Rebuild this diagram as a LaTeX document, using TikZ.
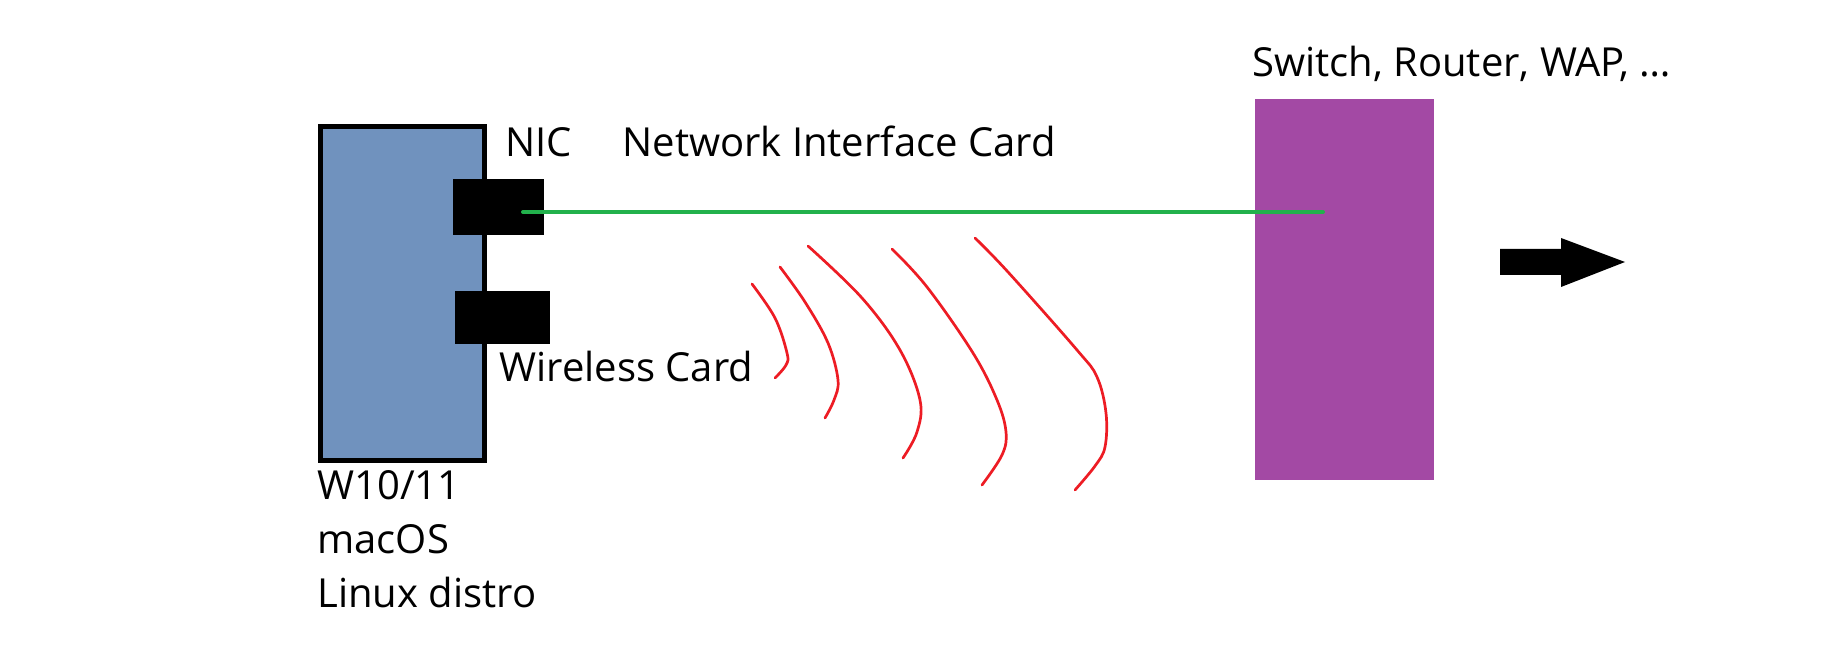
\documentclass[tikz,border=0pt]{standalone}
\usepackage{fontspec}
\setmainfont{Open Sans}
\usepackage{xcolor}
\usepackage{tikz}
\usetikzlibrary{positioning,calc}
\definecolor{pcBlue}{RGB}{112,146,190}
\definecolor{swPurple}{RGB}{163,73,164}
\definecolor{cableGreen}{RGB}{34,177,76}
\definecolor{waveRed}{RGB}{237,28,36}

\begin{document}
\begin{tikzpicture}[
    x=0.5pt, y=-0.5pt,
    every node/.style={font=\fontsize{20}{26.5}\selectfont},
    pcNode/.style={rectangle, draw=black, fill=pcBlue, line width=2.5pt, minimum width=82pt, minimum height=167pt, inner sep=0pt},
    cardNode/.style={rectangle, fill=black, inner sep=0pt},
    switchNode/.style={rectangle, fill=swPurple, minimum width=89.5pt, minimum height=190.5pt, inner sep=0pt},
    labelText/.style={anchor=base west, inner sep=0pt},
    cableLine/.style={draw=cableGreen, line width=2pt, line cap=round},
    waveLine/.style={draw=waveRed, line width=1.35pt, line cap=round, line join=round},
    bigArrow/.style={fill=black}
]
\useasboundingbox (0,0) rectangle (1833,663);

% Boxes
\node (pc) [pcNode] at (402.5,293.5) {};
\node (nic) [cardNode, minimum width=45.5pt, minimum height=28pt] at (498.5,207) {};
\node (wifi) [cardNode, minimum width=47.5pt, minimum height=26.5pt] at (502.5,317.5) {};
\node (switch) [switchNode] at (1344.5,289.5) {};

% Labels
\node (nicLabel) [labelText] at (505,157) {NIC};
\node (nicFull) [labelText] at (622,157) {Network Interface Card};
\node (wifiLabel) [labelText] at (499,382) {Wireless Card};
\node (switchLabel) [labelText] at (1252,77) {Switch, Router, WAP, \dots};
\node (os1) [labelText] at (317,500) {W10/11};
\node (os2) [labelText] at (317,553) {macOS};
\node (os3) [labelText] at (317,607) {Linux distro};

% Cable
\coordinate (nicPort) at (523,212);
\coordinate (swPort) at (1323,212);
\draw [cableLine] (nicPort) -- (swPort);

% Radio waves
\draw [waveLine] plot[smooth, tension=0.6] coordinates {(752,284) (775,318) (787,353) (786,365) (775,378)};
\draw [waveLine] plot[smooth, tension=0.6] coordinates {(780,267) (805,302) (828,343) (838,380) (834,400) (825,418)};
\draw [waveLine] plot[smooth, tension=0.6] coordinates {(808,246) (862,298) (900,350) (920,400) (917,432) (903,458)};
\draw [waveLine] plot[smooth, tension=0.6] coordinates {(892,249) (927,287) (973,353) (997,400) (1006,432) (1002,455) (982,485)};
\draw [waveLine] plot[smooth, tension=0.6] coordinates {(975,238) (1008,272) (1077,350) (1097,377) (1106,413) (1105,447) (1095,466) (1075,490)};

% Outgoing arrow
\coordinate (arrowTail) at (1500,262);
\coordinate (arrowTip) at (1625,262);
\fill [bigArrow] ($(arrowTail)+(0,-13)$) -- (1561,249) -- (1561,238) -- (arrowTip) -- (1561,287) -- (1561,275) -- ($(arrowTail)+(0,13)$) -- cycle;

\end{tikzpicture}
\end{document}
